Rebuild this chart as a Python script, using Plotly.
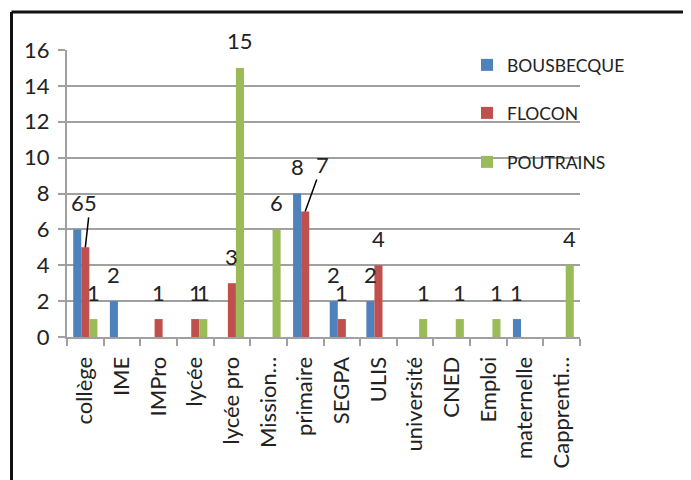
import plotly.graph_objects as go

categories = ["collège", "IME", "IMPro", "lycée", "lycée pro", "Mission…", "primaire",
              "SEGPA", "ULIS", "université", "CNED", "Emploi", "maternelle", "Capprenti…"]
bousbecque = [6, 2, 0, 0, 0, 0, 8, 2, 2, 0, 0, 0, 1, 0]
flocon = [5, 0, 1, 1, 3, 0, 7, 1, 4, 0, 0, 0, 0, 0]
poutrains = [1, 0, 0, 1, 15, 6, 0, 0, 0, 1, 1, 1, 0, 4]
series_names = ["BOUSBECQUE", "FLOCON", "POUTRAINS"]
y_ticks = [0, 2, 4, 6, 8, 10, 12, 14, 16]

colors = ["#4F81BD", "#C0504D", "#9BBB59"]
FONT = "Lato, 'Open Sans', sans-serif"
TS = 22

OFF = 8  # page body margin
W, H = 691 - OFF, 480 - OFF
ML, MR, MT, MB = 67 - OFF, 111, 50 - OFF, 143
PW, PH = W - ML - MR, H - MT - MB

fig = go.Figure()
all_series = [bousbecque, flocon, poutrains]
legend_ids = ["legend", "legend2", "legend3"]
for name, vals, col, lg in zip(series_names, all_series, colors, legend_ids):
    fig.add_trace(go.Bar(x=categories, y=vals, name=name, marker_color=col,
                         marker_line_width=0, legend=lg))

# label nudges (leader lines) for displaced labels: (series idx, category) -> (ax, ay)
nudges = {(1, "collège"): (5, -45), (1, "primaire"): (17, -47)}

annotations = []
bar_w = PW / len(categories) * (1 - 0.34) / 3
for si, vals in enumerate(all_series):
    for c, v in zip(categories, vals):
        if v == 0:
            continue
        xs = (si - 1) * bar_w
        if (si, c) in nudges:
            ax, ay = nudges[(si, c)]
            annotations.append(dict(x=c, y=v, xref="x", yref="y", text=str(v),
                                    xshift=xs, showarrow=True, arrowhead=0,
                                    arrowwidth=1.5, arrowcolor="#000", ax=ax, ay=ay,
                                    standoff=0, font=dict(size=TS, color="#222", family=FONT)))
        else:
            annotations.append(dict(x=c, y=v, xref="x", yref="y", text=str(v),
                                    xshift=xs, yshift=27, showarrow=False,
                                    yanchor="middle", xanchor="center",
                                    font=dict(size=TS, color="#222", family=FONT)))

# frame (left and top border)
bx = (11.5 - OFF - ML) / PW
by = 1 + (MT - (12 - OFF)) / PH
shapes = [
    dict(type="line", xref="paper", yref="paper", x0=bx, x1=bx, y0=by, y1=-2,
         line=dict(color="#111", width=3)),
    dict(type="line", xref="paper", yref="paper", x0=bx, x1=3, y0=by, y1=by,
         line=dict(color="#111", width=3)),
]

legend_centers = [65, 113, 162]
legend_layout = {}
for lg, cy in zip(legend_ids, legend_centers):
    legend_layout[lg] = dict(x=(459 - ML) / PW, y=1 - (cy - OFF - MT) / PH, xanchor="left",
                             yanchor="middle", bgcolor="rgba(0,0,0,0)",
                             font=dict(size=17.5, color="#222", family=FONT), itemwidth=30)

fig.update_layout(
    width=W, height=H,
    margin=dict(l=ML, r=MR, t=MT, b=MB),
    paper_bgcolor="white", plot_bgcolor="white",
    barmode="group", bargap=0.34, bargroupgap=0,
    font=dict(family=FONT, color="#222"),
    showlegend=True,
    annotations=annotations,
    shapes=shapes,
    **legend_layout,
)
fig.update_xaxes(type="category", tickangle=-90, tickson="boundaries", automargin=False,
                 showline=True, linecolor="#a0a0a0", linewidth=2,
                 ticks="outside", ticklen=7, tickcolor="#a0a0a0", tickwidth=2,
                 tickfont=dict(size=TS, color="#222", family=FONT), ticklabelstandoff=9,
                 showgrid=False)
fig.update_yaxes(range=[0, 16], tickvals=y_ticks, showline=True, linecolor="#a0a0a0",
                 automargin=False,
                 linewidth=2, ticks="outside", ticklen=7, tickcolor="#a0a0a0", tickwidth=2,
                 showgrid=True, gridcolor="#a0a0a0", gridwidth=2,
                 tickfont=dict(size=TS, color="#222", family=FONT), ticklabelstandoff=4,
                 zeroline=False)

fig.write_html("out.html")
